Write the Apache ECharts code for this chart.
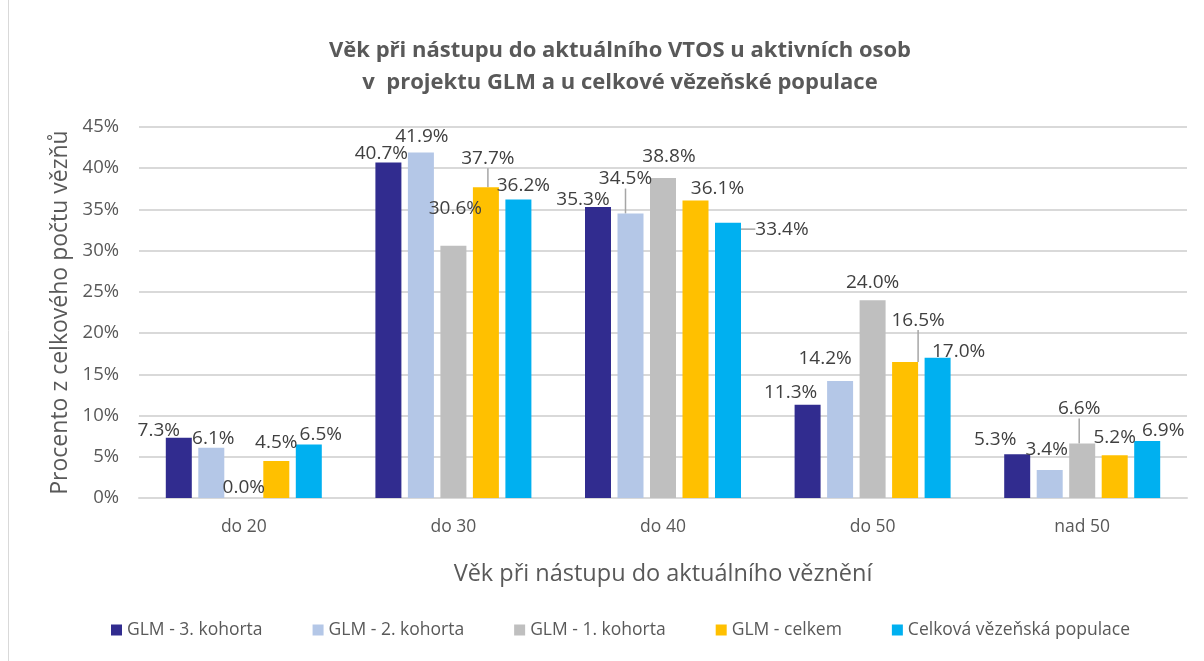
<!DOCTYPE html>
<html>
<head>
<meta charset="utf-8">
<script src="https://cdn.jsdelivr.net/npm/echarts@6/dist/echarts.min.js"></script>
<style>
html, body { margin: 0; padding: 0; background: #fff; }
#chart { width: 1204px; height: 661px; }
</style>
</head>
<body>
<div id="chart"></div>
<script>
// data (percent)
const categories = ['do 20', 'do 30', 'do 40', 'do 50', 'nad 50'];
const seriesNames = ['GLM - 3. kohorta', 'GLM - 2. kohorta', 'GLM - 1. kohorta', 'GLM - celkem', 'Celková vězeňská populace'];
const kohorta3 = [7.3, 40.7, 35.3, 11.3, 5.3];
const kohorta2 = [6.1, 41.9, 34.5, 14.2, 3.4];
const kohorta1 = [0.0, 30.6, 38.8, 24.0, 6.6];
const celkem = [4.5, 37.7, 36.1, 16.5, 5.2];
const populace = [6.5, 36.2, 33.4, 17.0, 6.9];
const yTicks = [0, 45, 5]; // min, max, step

const colors = ['#312C8F', '#B4C7E7', '#BFBFBF', '#FFC000', '#00B0F0'];

// label nudges like in the Excel original, [dx, dy] per series / category
const labelShift = [
    [[-20, 6], [-7, 5], [-15, 6], [-17, 1], [-22, -1]],
    [[2, 4], [1, -2], [-5, -21], [-15, -9], [-3, -7]],
    [[0, 3], [2, -24], [6, -8], [0, -4], [-3, -21]],
    [[0, -5], [2, -15], [22, 2], [13, -28], [0, -4]],
    [[12, 4], [5, 0], [54, 20], [21, 7], [16, 3]]
];
// which labels get a leader line: [series, category]
const leaders = [[3, 1], [1, 2], [4, 2], [3, 3], [2, 4]];

const chart = echarts.init(document.getElementById('chart'));

const allValues = [kohorta3, kohorta2, kohorta1, celkem, populace];
const series = allValues.map((vals, si) => ({
    name: seriesNames[si],
    type: 'bar',
    barWidth: 26,
    barGap: '25%',
    itemStyle: { color: colors[si] },
    data: vals.map((v, ci) => {
        const item = { value: v };
        if (leaders.some(l => l[0] === si && l[1] === ci)) {
            item.labelLine = { show: true, lineStyle: { color: '#A6A6A6', width: 1.5 } };
        }
        return item;
    }),
    label: {
        show: true,
        position: 'top',
        distance: 4,
        fontFamily: 'Open Sans',
        fontSize: 19,
        color: '#404040',
        formatter: p => p.value.toFixed(1) + '%'
    },
    labelLayout: p => {
        const s = labelShift[p.seriesIndex][p.dataIndex];
        return { dx: s[0], dy: s[1] };
    }
}));

const option = {
    animation: false,
    textStyle: { fontFamily: 'Open Sans' },
    title: {
        text: 'Věk při nástupu do aktuálního VTOS u aktivních osob\nv  projektu GLM a u celkové vězeňské populace',
        left: 615,
        top: 30,
        textAlign: 'center',
        textStyle: {
            fontFamily: 'Open Sans',
            fontSize: 22,
            fontWeight: 'bold',
            color: '#595959',
            lineHeight: 32
        }
    },
    grid: { left: 139, right: 17, top: 127, bottom: 163 },
    legend: {
        bottom: 17,
        left: 106,
        icon: 'rect',
        itemWidth: 11,
        itemHeight: 11,
        itemGap: 50,
        textStyle: { fontFamily: 'Open Sans', fontSize: 17.5, color: '#595959' },
        data: seriesNames
    },
    xAxis: {
        type: 'category',
        data: categories,
        name: 'Věk při nástupu do aktuálního věznění',
        nameLocation: 'middle',
        nameGap: 64,
        nameTextStyle: { fontSize: 23.5, color: '#595959' },
        axisLine: { lineStyle: { color: '#D9D9D9', width: 2 } },
        axisTick: { show: false },
        axisLabel: { fontSize: 17.5, color: '#595959', margin: 20 }
    },
    yAxis: {
        type: 'value',
        min: yTicks[0],
        max: yTicks[1],
        interval: yTicks[2],
        name: 'Procento z celkového počtu vězňů',
        nameLocation: 'middle',
        nameGap: 64,
        nameTextStyle: { fontSize: 23, color: '#595959' },
        axisLine: { show: false },
        axisTick: { show: false },
        axisLabel: { fontSize: 18.5, color: '#595959', margin: 20, formatter: '{value}%' },
        splitLine: { lineStyle: { color: '#D9D9D9', width: 2 } }
    },
    graphic: [{
        type: 'line',
        shape: { x1: 8.5, y1: 0, x2: 8.5, y2: 661 },
        style: { stroke: '#D9D9D9', lineWidth: 1 },
        silent: true
    }],
    series: series
};

chart.setOption(option);
</script>
</body>
</html>
